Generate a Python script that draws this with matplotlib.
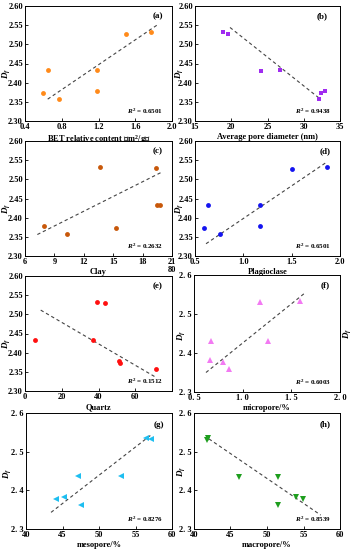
import matplotlib
matplotlib.use("Agg")
import matplotlib.pyplot as plt
from matplotlib.ticker import FixedLocator, FixedFormatter

plt.rcParams['font.family'] = ['Liberation Serif', 'Noto Sans CJK SC', 'DejaVu Sans']
plt.rcParams['font.weight'] = 'bold'
plt.rcParams['mathtext.fontset'] = 'custom'
plt.rcParams['mathtext.rm'] = 'Liberation Serif:bold'
plt.rcParams['mathtext.it'] = 'Liberation Serif:italic:bold'
plt.rcParams['mathtext.bf'] = 'Liberation Serif:bold'

# ---------------- data ----------------
a_x = [0.60, 0.647, 0.767, 1.182, 1.182, 1.498, 1.771]
a_y = [2.374, 2.432, 2.357, 2.432, 2.378, 2.528, 2.532]
a_fit_x = [0.647, 1.836]
a_fit_y = [2.357, 2.550]

b_x = [18.9, 19.5, 24.15, 26.7, 32.06, 32.4, 32.9]
b_y = [2.531, 2.528, 2.431, 2.432, 2.357, 2.374, 2.378]
b_fit_x = [19.83, 32.24]
b_fit_y = [2.544, 2.358]

c_x = [7.98, 10.33, 13.64, 15.24, 19.33, 19.5, 19.74]
c_y = [2.378, 2.357, 2.532, 2.374, 2.529, 2.432, 2.432]
c_fit_x = [7.26, 20.05]
c_fit_y = [2.356, 2.520]

d_x = [0.59, 0.634, 0.755, 1.176, 1.176, 1.50, 1.869]
d_y = [2.374, 2.432, 2.357, 2.432, 2.378, 2.528, 2.532]
d_fit_x = [0.614, 1.869]
d_fit_y = [2.332, 2.546]

e_x = [5.3, 39.1, 43.8, 36.9, 50.9, 51.5, 71.1]
e_y = [2.432, 2.533, 2.530, 2.432, 2.378, 2.374, 2.358]
e_fit_x = [8.55, 71.5]
e_fit_y = [2.511, 2.335]

f_x = [0.664, 0.675, 0.795, 0.86, 1.178, 1.264, 1.589]
f_y = [2.381, 2.432, 2.376, 2.358, 2.531, 2.432, 2.533]
f_fit_x = [0.623, 1.64]
f_fit_y = [2.350, 2.554]

g_x = [44.12, 45.26, 47.1, 47.55, 53.0, 56.43, 57.07]
g_y = [2.377, 2.382, 2.436, 2.361, 2.436, 2.535, 2.533]
g_fit_x = [43.43, 57.25]
g_fit_y = [2.343, 2.545]

h_x = [41.73, 41.95, 46.23, 51.5, 51.5, 53.95, 54.9]
h_y = [2.531, 2.535, 2.435, 2.435, 2.361, 2.382, 2.377]
h_fit_x = [42.05, 57.36]
h_fit_y = [2.533, 2.336]

r2_labels = ["0.6501", "0.9438", "0.2632", "0.6501", "0.1512", "0.6003", "0.8276", "0.8539"]
panel_labels = ["(a)", "(b)", "(c)", "(d)", "(e)", "(f)", "(g)", "(h)"]
x_titles = ["BET relative content （m$^2$/g）", "Average pore diameter (nm)", "Clay",
            "Plagioclase", "Quartz", "micropore/%", "mesopore/%", "macropore/%"]

y_ticks_fine = [2.30, 2.35, 2.40, 2.45, 2.50, 2.55, 2.60]
y_ticklabels_fine = ["2.30", "2.35", "2.40", "2.45", "2.50", "2.55", "2.60"]
y_ticks_coarse = [2.3, 2.4, 2.5, 2.6]
y_ticklabels_coarse = ["2. 3", "2. 4", "2. 5", "2. 6"]

a_xticks = [0.4, 0.8, 1.2, 1.6, 2.0]; a_xtl = ["0.4", "0.8", "1.2", "1.6", "2.0"]
b_xticks = [15, 20, 25, 30, 35]; b_xtl = ["15", "20", "25", "30", "35"]
c_xticks = [6, 9, 12, 15, 18, 21]; c_xtl = ["6", "9", "12", "15", "18", "21"]
d_xticks = [0.5, 1.0, 1.5, 2.0]; d_xtl = ["0.5", "1.0", "1.5", "2.0"]
e_xticks = [0, 20, 40, 60, 80]; e_xtl = ["0", "20", "40", "60", ""]
f_xticks = [0.5, 1.0, 1.5, 2.0]; f_xtl = ["0. 5", "1. 0", "1. 5", "2. 0"]
g_xticks = [40, 45, 50, 55, 60]; g_xtl = ["40", "45", "50", "55", "60"]
h_xticks = [40, 45, 50, 55, 60]; h_xtl = ["40", "45", "50", "55", "60"]

# ---------------- layout ----------------
W, H = 354, 550
fig = plt.figure(figsize=(W / 100, H / 100), dpi=100)

def box(x0, x1, y0, y1):
    return [x0 / W, (H - y1) / H, (x1 - x0) / W, (y1 - y0) / H]

panels = [
    dict(rect=box(25, 172, 6, 121), x=a_x, y=a_y, fx=a_fit_x, fy=a_fit_y, xlim=(0.4, 2.0),
         xt=a_xticks, xtl=a_xtl, m='o', c='#FF8A1A', ms=3.5, fine=True, ylab=(-0.09, 0.415),
         r2=(0.94, 0.085), lab=(0.905, 0.91)),
    dict(rect=box(195, 340, 6, 121), x=b_x, y=b_y, fx=b_fit_x, fy=b_fit_y, xlim=(15, 35),
         xt=b_xticks, xtl=b_xtl, m='s', c='#A02CF0', ms=3.2, fine=True, ylab=(-0.07, 0.415),
         r2=(0.94, 0.085), lab=(0.88, 0.91)),
    dict(rect=box(25, 172, 141, 256), x=c_x, y=c_y, fx=c_fit_x, fy=c_fit_y, xlim=(6, 21),
         xt=c_xticks, xtl=c_xtl, m='o', c='#C8580A', ms=3.5, fine=True, ylab=(-0.09, 0.415),
         r2=(0.94, 0.085), lab=(0.9, 0.91)),
    dict(rect=box(195, 340, 141, 256), x=d_x, y=d_y, fx=d_fit_x, fy=d_fit_y, xlim=(0.5, 2.0),
         xt=d_xticks, xtl=d_xtl, m='o', c='#1414F0', ms=3.5, fine=True, ylab=(-0.07, 0.415),
         r2=(0.94, 0.085), lab=(0.9, 0.91)),
    dict(rect=box(25, 172, 276, 391), x=e_x, y=e_y, fx=e_fit_x, fy=e_fit_y, xlim=(0, 80),
         xt=e_xticks, xtl=e_xtl, m='o', c='#FF1010', ms=3.5, fine=True, ylab=(-0.09, 0.415),
         r2=(0.94, 0.085), lab=(0.905, 0.91)),
    dict(rect=box(194, 340, 275, 392), x=f_x, y=f_y, fx=f_fit_x, fy=f_fit_y, xlim=(0.5, 2.0),
         xt=f_xticks, xtl=f_xtl, m='^', c='#F27AF2', ms=3.7, fine=False, ylab=(-0.05, 0.48),
         r2=(0.94, 0.085), lab=(0.9, 0.91)),
    dict(rect=box(26, 172, 413, 529), x=g_x, y=g_y, fx=g_fit_x, fy=g_fit_y, xlim=(40, 60),
         xt=g_xticks, xtl=g_xtl, m='<', c='#1EBEF0', ms=3.7, fine=False, ylab=(-0.09, 0.48),
         r2=(0.94, 0.085), lab=(0.91, 0.9)),
    dict(rect=box(194, 340, 413, 529), x=h_x, y=h_y, fx=h_fit_x, fy=h_fit_y, xlim=(40, 60),
         xt=h_xticks, xtl=h_xtl, m='v', c='#1E9E1E', ms=3.7, fine=False, ylab=(-0.05, 0.5),
         r2=(0.94, 0.085), lab=(0.9, 0.9)),
]

for i, p in enumerate(panels):
    ax = fig.add_axes(p['rect'])
    ax.plot(p['fx'], p['fy'], linestyle=(0, (3, 2.5)), color='#444444', lw=0.8, zorder=2)
    ax.plot(p['x'], p['y'], linestyle='none', marker=p['m'], color=p['c'],
            markersize=p['ms'], markeredgewidth=0, zorder=3)
    ax.set_xlim(*p['xlim'])
    ax.set_ylim(2.30, 2.60)
    ax.xaxis.set_major_locator(FixedLocator(p['xt']))
    ax.xaxis.set_major_formatter(FixedFormatter(p['xtl']))
    if p['fine']:
        ax.yaxis.set_major_locator(FixedLocator(y_ticks_fine))
        ax.yaxis.set_major_formatter(FixedFormatter(y_ticklabels_fine))
    else:
        ax.yaxis.set_major_locator(FixedLocator(y_ticks_coarse))
        ax.yaxis.set_major_formatter(FixedFormatter(y_ticklabels_coarse))
    ax.tick_params(direction='in', length=2, width=0.6, labelsize=6, pad=1.5)
    for lbl in ax.get_xticklabels() + ax.get_yticklabels():
        lbl.set_fontweight('bold')
    for s in ax.spines.values():
        s.set_linewidth(0.7)
    ax.set_xlabel(x_titles[i], fontsize=6, fontweight='bold', labelpad=1.5)
    ax.set_ylabel(r'$D_f$', fontsize=6.5)
    ax.yaxis.set_label_coords(*p['ylab'])
    ax.text(p['r2'][0], p['r2'][1], r'$R^2$ = ' + r2_labels[i], transform=ax.transAxes,
            ha='right', va='center', fontsize=5, fontweight='bold')
    ax.text(p['lab'][0], p['lab'][1], panel_labels[i], transform=ax.transAxes,
            ha='center', va='center', fontsize=6.5, fontweight='bold')

# stray fragments visible in the reference
fig.text(172 / W, 1 - 270 / H, "80", fontsize=6, fontweight='bold', ha='center', va='center')
fig.text(347 / W, 1 - 333 / H, r'$D_f$', fontsize=6.5, rotation=90, ha='center', va='center')

fig.savefig("out.png", dpi=100)
